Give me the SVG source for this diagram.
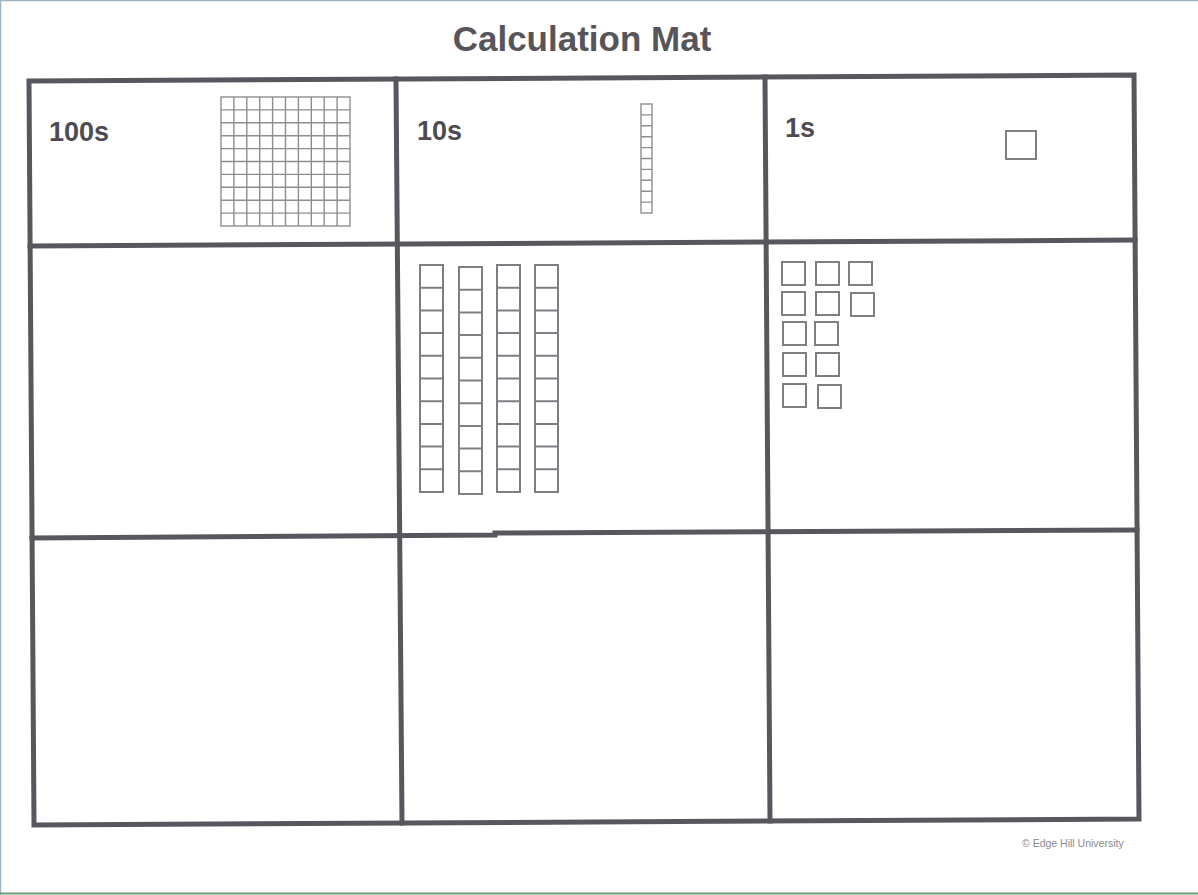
<svg xmlns="http://www.w3.org/2000/svg" width="1198" height="895" viewBox="0 0 1198 895">
<style>
.frame{stroke:#5a565e;stroke-width:5;fill:none;stroke-linecap:square}
.label{font-family:"Liberation Sans",Arial,sans-serif;font-weight:bold;fill:#4f4b52;font-size:27px}
.title{font-family:"Liberation Sans",Arial,sans-serif;font-weight:bold;fill:#58555a;font-size:35px}
.blk{fill:none;stroke:#8f8d93;stroke-width:1.4}
.blk2{fill:none;stroke:#807e85;stroke-width:2}
.tiny{font-family:"Liberation Sans",Arial,sans-serif;fill:#8a8a8a;font-size:10.5px}
</style>
<defs>
<g id="cube"><rect x="0" y="0" width="23" height="23" class="blk2"/></g>
<g id="rod">
<rect x="0" y="0" width="23" height="227" class="blk2"/>
<path d="M0 22.7H23M0 45.4H23M0 68.1H23M0 90.8H23M0 113.5H23M0 136.2H23M0 158.9H23M0 181.6H23M0 204.3H23" class="blk2"/>
</g>
</defs>
<rect width="1198" height="895" fill="#ffffff"/>
<g id="page-border">
<line x1="0" y1="0.5" x2="1198" y2="0.5" stroke="#9fb3c2" stroke-width="1.5"/>
<line x1="0.5" y1="0" x2="0.5" y2="895" stroke="#9fb3c2" stroke-width="1.5"/>
<line x1="0" y1="893.5" x2="1198" y2="893.5" stroke="#6f9c74" stroke-width="2"/>
</g>
<text id="title" class="title" x="582" y="51" text-anchor="middle">Calculation Mat</text>
<g id="connectors">
<polygon class="frame" points="29,81 1134,75 1139,819 34,825"/>
<line class="frame" x1="396" y1="79" x2="402" y2="823"/>
<line class="frame" x1="765" y1="77" x2="770" y2="821"/>
<line class="frame" x1="30" y1="246" x2="1135" y2="240"/>
<polyline class="frame" points="32,538 495,535 495,533 1137,530"/>
</g>
<g id="cell-100s">
<text class="label" x="49" y="141">100s</text>
<g id="hundred-square">
<rect x="221" y="97" width="129" height="129" class="blk"/>
<path d="M233.9 97V226M246.8 97V226M259.7 97V226M272.6 97V226M285.5 97V226M298.4 97V226M311.3 97V226M324.2 97V226M337.1 97V226" class="blk"/>
<path d="M221 109.9H350M221 122.8H350M221 135.7H350M221 148.6H350M221 161.5H350M221 174.4H350M221 187.3H350M221 200.2H350M221 213.1H350" class="blk"/>
</g>
</g>
<g id="cell-10s">
<text class="label" x="417" y="140">10s</text>
<g id="ten-rod">
<rect x="641" y="104" width="11" height="109" class="blk"/>
<path d="M641 114.9H652M641 125.8H652M641 136.7H652M641 147.6H652M641 158.5H652M641 169.4H652M641 180.3H652M641 191.2H652M641 202.1H652" class="blk"/>
</g>
</g>
<g id="cell-1s">
<text class="label" x="785" y="137">1s</text>
<rect id="one-cube" x="1006" y="131" width="30" height="28" class="blk2"/>
</g>
<g id="tens-rods">
<use href="#rod" x="420" y="265"/>
<use href="#rod" x="459" y="267"/>
<use href="#rod" x="497" y="265"/>
<use href="#rod" x="535" y="265"/>
</g>
<g id="ones-cubes">
<use href="#cube" x="782" y="262"/>
<use href="#cube" x="816" y="262"/>
<use href="#cube" x="849" y="262"/>
<use href="#cube" x="782" y="292"/>
<use href="#cube" x="816" y="292"/>
<use href="#cube" x="851" y="293"/>
<use href="#cube" x="783" y="322"/>
<use href="#cube" x="815" y="322"/>
<use href="#cube" x="783" y="353"/>
<use href="#cube" x="816" y="353"/>
<use href="#cube" x="783" y="384"/>
<use href="#cube" x="818" y="385"/>
</g>
<text id="copyright" class="tiny" x="1022" y="847">© Edge Hill University</text>
</svg>
